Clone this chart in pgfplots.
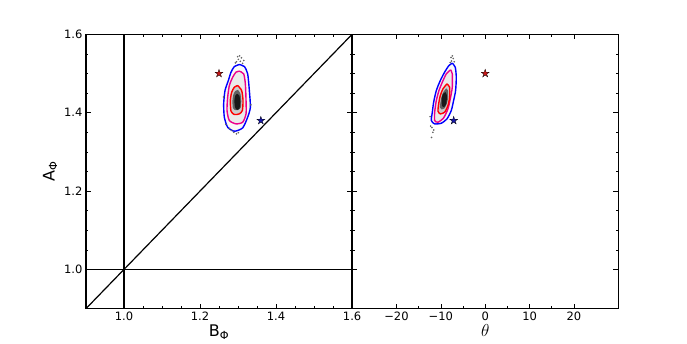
\documentclass[border=0pt]{standalone}
\usepackage{fontspec}
\setmainfont{DejaVu Sans}
\usepackage{pgfplots}
\pgfplotsset{compat=1.18}
\definecolor{starred}{RGB}{200,25,25}
\definecolor{starblue}{RGB}{25,25,170}
\pgfdeclareplotmark{fstar}{%
  \pgfpathmoveto{\pgfpointpolar{90}{\pgfplotmarksize}}%
  \pgfpathlineto{\pgfpointpolar{126}{0.382\pgfplotmarksize}}%
  \pgfpathlineto{\pgfpointpolar{162}{\pgfplotmarksize}}%
  \pgfpathlineto{\pgfpointpolar{198}{0.382\pgfplotmarksize}}%
  \pgfpathlineto{\pgfpointpolar{234}{\pgfplotmarksize}}%
  \pgfpathlineto{\pgfpointpolar{270}{0.382\pgfplotmarksize}}%
  \pgfpathlineto{\pgfpointpolar{306}{\pgfplotmarksize}}%
  \pgfpathlineto{\pgfpointpolar{342}{0.382\pgfplotmarksize}}%
  \pgfpathlineto{\pgfpointpolar{18}{\pgfplotmarksize}}%
  \pgfpathlineto{\pgfpointpolar{54}{0.382\pgfplotmarksize}}%
  \pgfpathclose\pgfusepathqfillstroke}
\pgfplotsset{common/.style={
  scale only axis, width=266.2pt, height=274.4pt,
  anchor=south west,
  ymin=0.9, ymax=1.6, ytick={1.0,1.2,1.4,1.6}, minor y tick num=3,
  tick align=inside, major tick length=5pt, minor tick length=2.5pt,
  axis line style={line width=1.3pt},
  every tick/.style={black, line width=0.6pt},
  ticklabel style={font=\fontsize{11.5}{13}\selectfont},
  label style={font=\fontsize{16}{18}\selectfont},
  xlabel style={yshift=3pt},
  /pgf/number format/assume math mode=true,
  /pgf/number format/fixed, /pgf/number format/precision=1,
  /pgf/number format/fixed zerofill,
  cont/.style={line width=1.4pt, smooth, tension=0.4},
  dens/.style={draw=none, smooth, tension=0.4},
  dots/.style={only marks, mark=*, mark size=0.6pt, gray!80!black, mark options={draw=gray!80!black}},
  stars/.style={only marks, mark=fstar, mark size=4.2pt, mark options={draw=black, line width=0.3pt}},
}}
\begin{document}
\begin{tikzpicture}
\path[use as bounding box] (0,0) rectangle (687pt,343pt);
\begin{axis}[common, at={(85.9pt,34.3pt)},
  xmin=0.9, xmax=1.6, xtick={1.0,1.2,1.4,1.6}, minor x tick num=3,
  xlabel={B\textsubscript{Φ}}, ylabel={A\textsubscript{Φ}}]
\addplot[dens, fill=gray!5] coordinates {(1.3035,1.5229)(1.3167,1.5178)(1.3254,1.4991)(1.3298,1.4566)(1.3325,1.4140)(1.3254,1.3885)(1.3123,1.3613)(1.2904,1.3527)(1.2728,1.3630)(1.2640,1.3885)(1.2623,1.4225)(1.2658,1.4566)(1.2746,1.4821)(1.2816,1.5034)(1.2904,1.5178)(1.3035,1.5229)};
\addplot[dens, fill=gray!16] coordinates {(1.3035,1.5059)(1.3149,1.4991)(1.3193,1.4736)(1.3211,1.4310)(1.3211,1.3970)(1.3123,1.3757)(1.2947,1.3715)(1.2772,1.3800)(1.2711,1.4055)(1.2728,1.4395)(1.2772,1.4693)(1.2860,1.4906)(1.2947,1.5034)(1.3035,1.5059)};
\addplot[dens, fill=gray!40] coordinates {(1.2991,1.4693)(1.3096,1.4566)(1.3132,1.4310)(1.3114,1.4055)(1.3035,1.3970)(1.2904,1.3953)(1.2816,1.4038)(1.2798,1.4310)(1.2833,1.4523)(1.2904,1.4651)(1.2991,1.4693)};
\addplot[dens, fill=gray!75!black] coordinates {(1.2998,1.4581)(1.3061,1.4492)(1.3086,1.4303)(1.3074,1.4135)(1.3019,1.4075)(1.2927,1.4063)(1.2865,1.4123)(1.2853,1.4303)(1.2877,1.4462)(1.2927,1.4552)(1.2998,1.4581)};
\addplot[dens, fill=black!90] coordinates {(1.2974,1.4481)(1.3035,1.4438)(1.3061,1.4268)(1.3035,1.4098)(1.2974,1.4072)(1.2921,1.4140)(1.2904,1.4310)(1.2930,1.4438)(1.2974,1.4481)};
\addplot[cont, blue] coordinates {(1.3035,1.5229)(1.3167,1.5178)(1.3254,1.4991)(1.3298,1.4566)(1.3325,1.4140)(1.3254,1.3885)(1.3123,1.3613)(1.2904,1.3527)(1.2728,1.3630)(1.2640,1.3885)(1.2623,1.4225)(1.2658,1.4566)(1.2746,1.4821)(1.2816,1.5034)(1.2904,1.5178)(1.3035,1.5229)};
\addplot[cont, magenta] coordinates {(1.3035,1.5059)(1.3149,1.4991)(1.3193,1.4736)(1.3211,1.4310)(1.3211,1.3970)(1.3123,1.3757)(1.2947,1.3715)(1.2772,1.3800)(1.2711,1.4055)(1.2728,1.4395)(1.2772,1.4693)(1.2860,1.4906)(1.2947,1.5034)(1.3035,1.5059)};
\addplot[cont, red] coordinates {(1.2991,1.4693)(1.3096,1.4566)(1.3132,1.4310)(1.3114,1.4055)(1.3035,1.3970)(1.2904,1.3953)(1.2816,1.4038)(1.2798,1.4310)(1.2833,1.4523)(1.2904,1.4651)(1.2991,1.4693)};
\addplot[dots] coordinates {(1.296,1.530)(1.301,1.536)(1.306,1.531)(1.309,1.540)(1.299,1.543)(1.312,1.526)(1.293,1.527)(1.304,1.545)(1.315,1.533)(1.289,1.350)(1.296,1.346)(1.283,1.355)(1.301,1.349)(1.277,1.360)(1.268,1.370)(1.262,1.440)(1.334,1.420)};
\addplot[black, line width=1.2pt] coordinates {(1.0,0.9)(1.0,1.6)};
\addplot[black, line width=1.2pt] coordinates {(0.9,1.0)(1.6,1.0)};
\addplot[black, line width=1.2pt] coordinates {(0.9,0.9)(1.6,1.6)};
\addplot[stars, fill=starred] coordinates {(1.25,1.50)};
\addplot[stars, fill=starblue] coordinates {(1.36,1.38)};
\end{axis}
\begin{axis}[common, at={(352.1pt,34.3pt)},
  xmin=-30, xmax=30, xtick={-20,-10,0,10,20},
  xticklabels={−20,−10,0,10,20}, minor x tick num=1,
  yticklabels={}, xlabel={$\theta$}]
\addplot[dens, fill=gray!5] coordinates {(-7.42,1.5263)(-6.75,1.5161)(-6.52,1.4906)(-6.67,1.4566)(-7.12,1.4310)(-7.65,1.4055)(-8.62,1.3842)(-9.89,1.3732)(-11.39,1.3715)(-12.14,1.3800)(-11.92,1.4012)(-11.62,1.4268)(-11.02,1.4566)(-10.12,1.4821)(-9.15,1.5034)(-8.17,1.5204)(-7.42,1.5263)};
\addplot[dens, fill=gray!16] coordinates {(-7.80,1.5093)(-7.42,1.4991)(-7.42,1.4651)(-7.87,1.4353)(-8.39,1.4098)(-9.37,1.3868)(-10.64,1.3757)(-11.39,1.3800)(-11.39,1.4012)(-11.02,1.4310)(-10.42,1.4566)(-9.67,1.4778)(-8.77,1.4991)(-7.80,1.5093)};
\addplot[dens, fill=gray!40] coordinates {(-8.62,1.4736)(-8.02,1.4651)(-8.02,1.4395)(-8.39,1.4183)(-9.15,1.4012)(-10.12,1.3970)(-10.64,1.4038)(-10.49,1.4225)(-10.12,1.4438)(-9.52,1.4608)(-8.62,1.4736)};
\addplot[dens, fill=gray!75!black] coordinates {(-8.79,1.4620)(-8.37,1.4561)(-8.37,1.4382)(-8.63,1.4233)(-9.17,1.4113)(-9.84,1.4084)(-10.21,1.4132)(-10.10,1.4263)(-9.84,1.4412)(-9.42,1.4531)(-8.79,1.4620)};
\addplot[dens, fill=black!90] coordinates {(-8.92,1.4523)(-8.62,1.4438)(-8.77,1.4225)(-9.30,1.4140)(-9.75,1.4183)(-9.82,1.4353)(-9.52,1.4481)(-8.92,1.4523)};
\addplot[cont, blue] coordinates {(-7.42,1.5263)(-6.75,1.5161)(-6.52,1.4906)(-6.67,1.4566)(-7.12,1.4310)(-7.65,1.4055)(-8.62,1.3842)(-9.89,1.3732)(-11.39,1.3715)(-12.14,1.3800)(-11.92,1.4012)(-11.62,1.4268)(-11.02,1.4566)(-10.12,1.4821)(-9.15,1.5034)(-8.17,1.5204)(-7.42,1.5263)};
\addplot[cont, magenta] coordinates {(-7.80,1.5093)(-7.42,1.4991)(-7.42,1.4651)(-7.87,1.4353)(-8.39,1.4098)(-9.37,1.3868)(-10.64,1.3757)(-11.39,1.3800)(-11.39,1.4012)(-11.02,1.4310)(-10.42,1.4566)(-9.67,1.4778)(-8.77,1.4991)(-7.80,1.5093)};
\addplot[cont, red] coordinates {(-8.62,1.4736)(-8.02,1.4651)(-8.02,1.4395)(-8.39,1.4183)(-9.15,1.4012)(-10.12,1.3970)(-10.64,1.4038)(-10.49,1.4225)(-10.12,1.4438)(-9.52,1.4608)(-8.62,1.4736)};
\addplot[dots] coordinates {(-7.6,1.532)(-7.2,1.538)(-7.9,1.528)(-7.4,1.545)(-7.0,1.530)(-7.7,1.541)(-12.0,1.362)(-11.6,1.356)(-12.3,1.366)(-11.8,1.350)(-12.1,1.337)(-12.4,1.390)};
\addplot[stars, fill=starred] coordinates {(0,1.50)};
\addplot[stars, fill=starblue] coordinates {(-7.1,1.38)};
\end{axis}
\end{tikzpicture}
\end{document}
